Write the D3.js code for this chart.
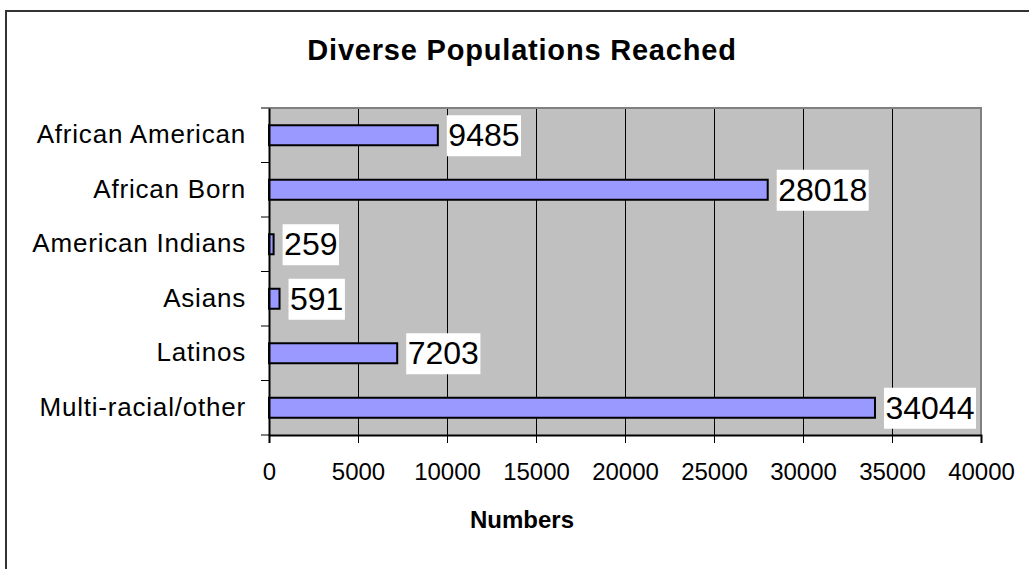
<!DOCTYPE html>
<html>
<head>
<meta charset="utf-8">
<script src="https://cdn.jsdelivr.net/npm/d3@7"></script>
<style>
  html, body { margin: 0; padding: 0; background: #fff; }
  svg { display: block; font-family: Arial, "Liberation Sans", sans-serif; }
</style>
</head>
<body>
<svg id="chart" width="1029" height="569"></svg>
<script>
// Population groups and the number of people reached in each
const categories = ["African American", "African Born", "American Indians", "Asians", "Latinos", "Multi-racial/other"];
const values = [9485, 28018, 259, 591, 7203, 34044];
const xTicks = [0, 5000, 10000, 15000, 20000, 25000, 30000, 35000, 40000];
const titleText = "Diverse Populations Reached";
const xAxisTitle = "Numbers";

const svg = d3.select("#chart");

// Frame around the chart object
svg.append("rect")
  .attr("x", 6).attr("y", 11)
  .attr("width", 1100).attr("height", 700)
  .attr("fill", "#fff")
  .attr("stroke", "#333").attr("stroke-width", 2);

const plot = { left: 269, right: 981, top: 108, bottom: 435 };
const centerX = 522;

const x = d3.scaleLinear().domain([0, 40000]).range([plot.left, plot.right]);
const y = d3.scaleBand().domain(categories).range([plot.top, plot.bottom]).paddingInner(0).paddingOuter(0);

// Plot background
svg.append("rect")
  .attr("x", plot.left).attr("y", plot.top)
  .attr("width", plot.right - plot.left).attr("height", plot.bottom - plot.top)
  .attr("fill", "#c0c0c0");

// Vertical gridlines
svg.append("g")
  .selectAll("line")
  .data(xTicks.slice(1, -1))
  .join("line")
  .attr("x1", d => Math.round(x(d)) + 0.5).attr("x2", d => Math.round(x(d)) + 0.5)
  .attr("y1", plot.top).attr("y2", plot.bottom)
  .attr("stroke", "#000").attr("stroke-width", 1);

// Plot border (top and right)
svg.append("path")
  .attr("d", `M${plot.left},${plot.top}H${plot.right}V${plot.bottom}`)
  .attr("fill", "none")
  .attr("stroke", "#808080").attr("stroke-width", 2);

// Bars
const barH = 20;
svg.append("g")
  .selectAll("rect")
  .data(values)
  .join("rect")
  .attr("x", x(0))
  .attr("y", (d, i) => y(categories[i]) + y.bandwidth() / 2 - barH / 2)
  .attr("width", d => x(d) - x(0))
  .attr("height", barH)
  .attr("fill", "#9999ff")
  .attr("stroke", "#000").attr("stroke-width", 2);

// X axis
const xAxis = d3.axisBottom(x).tickValues(xTicks).tickFormat(d3.format("d")).tickSize(8).tickPadding(20);
const gx = svg.append("g")
  .attr("transform", `translate(0,${plot.bottom})`)
  .call(xAxis);
gx.select(".domain").attr("stroke", "#000").attr("stroke-width", 2);
gx.selectAll(".tick line").attr("stroke", "#000").attr("stroke-width", 1);
gx.selectAll(".tick text")
  .attr("font-family", "Arial, 'Liberation Sans', sans-serif")
  .attr("font-size", 24)
  .attr("fill", "#000");

// Y axis
const yAxis = d3.axisLeft(y).tickSize(0).tickPadding(23);
const gy = svg.append("g")
  .attr("transform", `translate(${plot.left},0)`)
  .call(yAxis);
gy.select(".domain").attr("stroke", "#000").attr("stroke-width", 2);
gy.selectAll(".tick text")
  .attr("font-family", "Arial, 'Liberation Sans', sans-serif")
  .attr("font-size", 26)
  .attr("letter-spacing", "0.8px")
  .attr("dy", "0.31em")
  .attr("fill", "#000");

// Category boundary ticks on the y axis
const edges = categories.map(c => y(c)).concat([plot.bottom]);
svg.append("g")
  .selectAll("line")
  .data(edges)
  .join("line")
  .attr("x1", plot.left - 8).attr("x2", plot.left)
  .attr("y1", d => d).attr("y2", d => d)
  .attr("stroke", "#000").attr("stroke-width", 1);

// Value labels on white boxes
const labels = svg.append("g")
  .selectAll("g")
  .data(values)
  .join("g")
  .attr("transform", (d, i) => `translate(${x(d) + 9},${y(categories[i]) + y.bandwidth() / 2})`);

const boxes = labels.append("rect").attr("fill", "#fff");
const texts = labels.append("text")
  .attr("x", 1.5)
  .attr("y", 11)
  .attr("font-size", 32)
  .attr("fill", "#000")
  .text(d => d);

texts.each(function () {
  const w = this.getComputedTextLength();
  d3.select(this.previousSibling)
    .attr("x", 0).attr("y", -20)
    .attr("width", w + 3).attr("height", 41);
});

// Titles
svg.append("text")
  .attr("x", centerX).attr("y", 60)
  .attr("text-anchor", "middle")
  .attr("font-size", 29)
  .attr("font-weight", "bold")
  .attr("letter-spacing", "0.8px")
  .text(titleText);

svg.append("text")
  .attr("x", centerX).attr("y", 528)
  .attr("text-anchor", "middle")
  .attr("font-size", 24)
  .attr("font-weight", "bold")
  .text(xAxisTitle);
</script>
</body>
</html>
